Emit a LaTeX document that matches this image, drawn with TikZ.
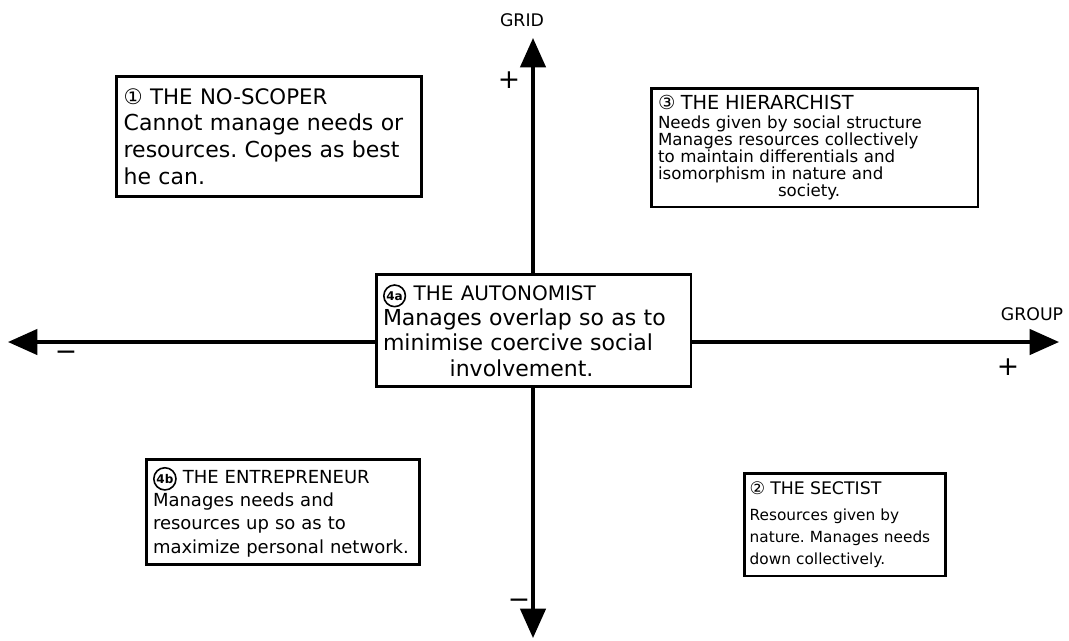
\documentclass[tikz,border=0pt]{standalone}
\usepackage{fontspec}
\setmainfont{DejaVu Sans}
\usetikzlibrary{arrows.meta}
\frenchspacing
\newcommand{\circnum}[1]{\tikz[baseline=(cn.base)]\node[draw,circle,line width=1.2pt,inner sep=0.8pt,
  minimum width=0pt,minimum height=0pt,text width={},align=center,anchor=center,fill=none,
  font=\fontsize{9}{9}\selectfont\bfseries](cn){#1};}
\tikzset{
  axis/.style={line width=2.5pt,-{Triangle[length=22pt,width=19pt]}},
  card/.style={draw,line width=2pt,fill=white,align=left,anchor=north west,inner sep=5pt},
  lbl/.style={font=\fontsize{13}{15}\selectfont},
  sign/.style={font=\fontsize{20}{20}\selectfont}
}
\begin{document}
\begin{tikzpicture}[x=0.75pt,y=-0.75pt]
\useasboundingbox (0,0) rectangle (1069,640);
% axes
\coordinate (o) at (533,342);
\coordinate (top) at (533,38);
\coordinate (bot) at (533,638);
\coordinate (lft) at (8,342);
\coordinate (rgt) at (1059,342);
\draw[axis] (o) -- (top);
\draw[axis] (o) -- (bot);
\draw[axis] (o) -- (lft);
\draw[axis] (o) -- (rgt);
\node[lbl] (grid) at (522,20) {GRID};
\node[lbl] (group) at (1032,314) {GROUP};
\node[sign] (gp) at (509,80) {+};
\node[sign] (gm) at (519,604) {−};
\node[sign] (rp) at (1008,367) {+};
\node[sign] (lm) at (66,356) {−};
% boxes
\node[card,minimum width=229pt,minimum height=90pt,text width=218pt,
  font=\fontsize{16.5}{20}\selectfont] (b1) at (115,75)
  {{\fontsize{16}{19}\selectfont ① THE NO-SCOPER}\\
   Cannot manage needs or\\ resources. Copes as best\\ he can.};
\node[card,minimum width=245pt,minimum height=89pt,text width=235pt,
  font=\fontsize{12.5}{12.8}\selectfont] (b3) at (650,87)
  {{\fontsize{14.5}{16}\selectfont ③ THE HIERARCHIST}\\[1pt]
   Needs given by social structure\\
   Manages resources collectively\\
   to maintain differentials and\\
   isomorphism in nature and\\
   \hspace*{90pt}society.};
\node[card,minimum width=236pt,minimum height=84pt,text width=226pt,
  font=\fontsize{16.5}{19}\selectfont] (b4a) at (375,273)
  {{\fontsize{15}{18}\selectfont \circnum{4a} THE AUTONOMIST}\\
   Manages overlap so as to\\
   minimise coercive social\\
   \hspace*{50pt}involvement.};
\node[card,minimum width=205pt,minimum height=79pt,text width=195pt,
  font=\fontsize{13.5}{17.5}\selectfont] (b4b) at (145,458)
  {{\fontsize{13.5}{16}\selectfont \circnum{4b} THE ENTREPRENEUR}\\
   Manages needs and\\
   resources up so as to\\
   maximize personal network.};
\node[card,inner sep=4pt,minimum width=151pt,minimum height=77pt,text width=143pt,
  font=\fontsize{11.5}{16.5}\selectfont] (b2) at (743,472)
  {{\fontsize{13}{16}\selectfont ② THE SECTIST}\\[3pt]
   Resources given by\\
   nature. Manages needs\\
   down collectively.};
\end{tikzpicture}
\end{document}
